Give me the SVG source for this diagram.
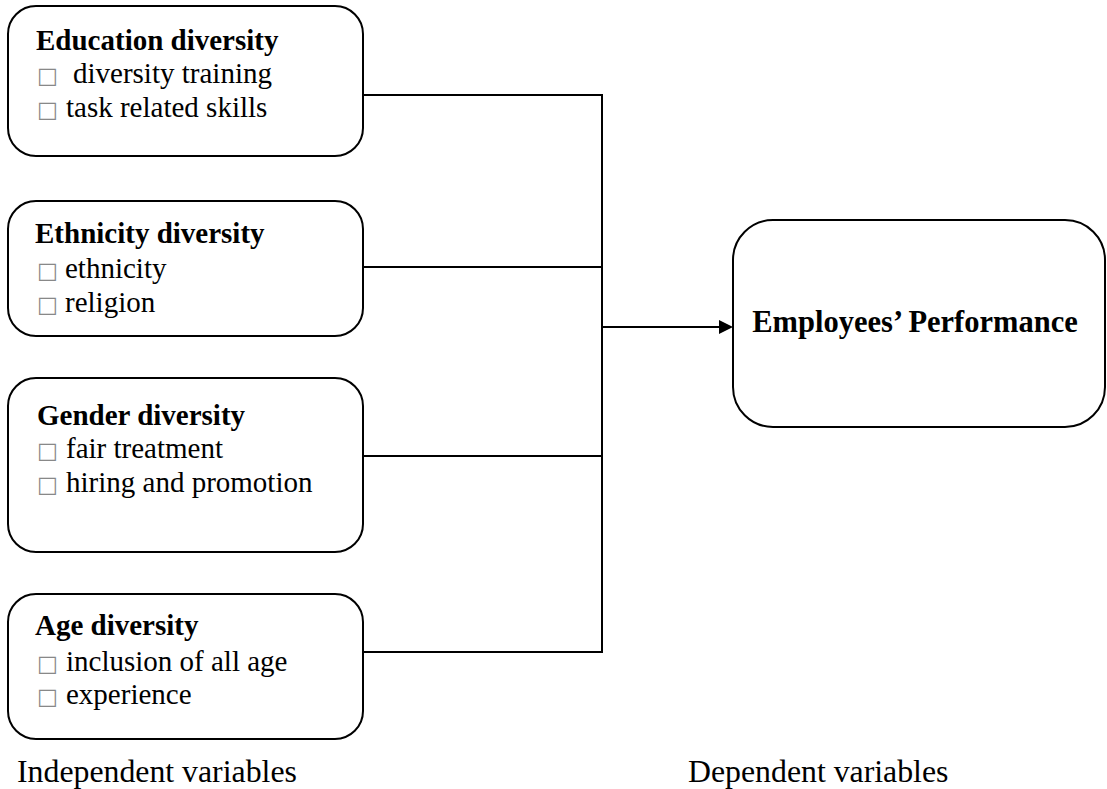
<svg xmlns="http://www.w3.org/2000/svg" width="1107" height="789" viewBox="0 0 1107 789">
<style>
.box{fill:#fff;stroke:#000;stroke-width:2}
.t{font-family:"Liberation Serif","Times New Roman",serif;font-size:29px;fill:#000}
.b{font-weight:bold}
.lab{font-size:31.8px}
.bul{font-family:"DejaVu Sans",sans-serif;font-size:22px;fill:#888}
.ln{stroke:#000;stroke-width:2;fill:none}
</style>
<rect width="1107" height="789" fill="#fff"/>
<g id="connectors">
<line class="ln" x1="363" y1="95" x2="602" y2="95"/>
<line class="ln" x1="363" y1="267" x2="602" y2="267"/>
<line class="ln" x1="363" y1="456" x2="602" y2="456"/>
<line class="ln" x1="363" y1="652" x2="602" y2="652"/>
<line class="ln" x1="602" y1="94" x2="602" y2="653"/>
<path d="M602,327 H719" class="ln"/>
<path d="M719,320 L733,327 L719,334 Z" fill="#000"/>
</g>
<g id="education">
<rect class="box" x="8" y="6" width="355" height="150" rx="28"/>
<text class="t b" x="36" y="50">Education diversity</text>
<text class="t" x="37" y="83"><tspan class="bul">□</tspan><tspan x="73">diversity training</tspan></text>
<text class="t" x="37" y="117"><tspan class="bul">□</tspan><tspan x="66">task related skills</tspan></text>
</g>
<g id="ethnicity">
<rect class="box" x="8" y="201" width="355" height="135" rx="28"/>
<text class="t b" x="35" y="243">Ethnicity diversity</text>
<text class="t" x="37" y="278"><tspan class="bul">□</tspan><tspan x="65">ethnicity</tspan></text>
<text class="t" x="37" y="312"><tspan class="bul">□</tspan><tspan x="65">religion</tspan></text>
</g>
<g id="gender">
<rect class="box" x="8" y="378" width="355" height="174" rx="28"/>
<text class="t b" x="37" y="425">Gender diversity</text>
<text class="t" x="37" y="458"><tspan class="bul">□</tspan><tspan x="66">fair treatment</tspan></text>
<text class="t" x="37" y="492"><tspan class="bul">□</tspan><tspan x="66">hiring and promotion</tspan></text>
</g>
<g id="age">
<rect class="box" x="8" y="594" width="355" height="145" rx="28"/>
<text class="t b" x="35" y="635">Age diversity</text>
<text class="t" x="37" y="671"><tspan class="bul">□</tspan><tspan x="66">inclusion of all age</tspan></text>
<text class="t" x="37" y="704"><tspan class="bul">□</tspan><tspan x="66">experience</tspan></text>
</g>
<g id="performance">
<rect class="box" x="733" y="220" width="372" height="207" rx="40"/>
<text class="t b" x="915" y="332" text-anchor="middle" style="font-size:30.5px">Employees’ Performance</text>
</g>
<g id="labels">
<text class="t lab" x="17" y="782">Independent variables</text>
<text class="t lab" x="688" y="782">Dependent variables</text>
</g>
</svg>
